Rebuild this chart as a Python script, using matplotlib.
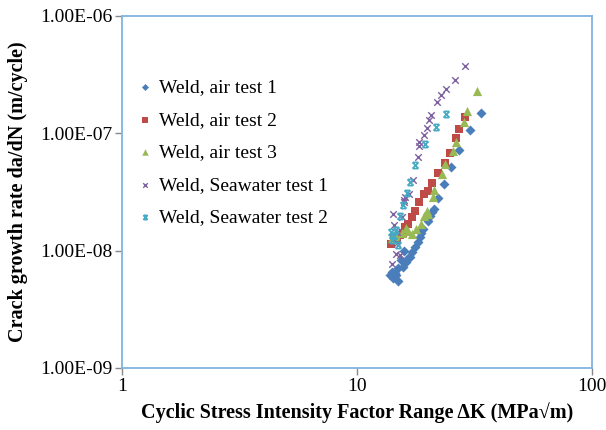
import matplotlib
matplotlib.use("Agg")
import matplotlib.pyplot as plt
from matplotlib.path import Path
from matplotlib.ticker import FixedLocator, FuncFormatter, NullLocator

plt.rcParams['font.family'] = ['Liberation Serif', 'DejaVu Serif']

# Weld, air test 1
k_air1 = [33.7, 30.3, 27.2, 25.1, 23.5, 22.1, 21.3, 20.9, 20.5, 20.0, 19.1, 18.7, 18.5,
          18.2, 17.7, 17.1, 16.8, 16.5, 16.2, 15.9, 15.7, 15.4, 14.9, 14.5, 14.1, 13.8,
          14.2, 14.7, 14.9]
r_air1 = [1.48e-7, 1.07e-7, 7.2e-8, 5.2e-8, 3.70e-8, 2.80e-8, 2.26e-8, 2.14e-8, 1.97e-8,
          1.79e-8, 1.53e-8, 1.41e-8, 1.31e-8, 1.18e-8, 1.07e-8, 9.7e-9, 8.8e-9, 8.6e-9,
          8.0e-9, 9.9e-9, 7.25e-9, 8.3e-9, 7.1e-9, 6.4e-9, 6.6e-9, 6.2e-9, 5.9e-9, 6.2e-9,
          5.5e-9]

# Weld, air test 2
k_air2 = [28.8, 27.2, 26.4, 24.9, 23.7, 22.1, 20.9, 20.0, 19.3, 18.4, 17.7, 17.1, 16.5,
          16.0, 15.7, 15.2, 14.8, 13.9, 14.4]
r_air2 = [1.38e-7, 1.09e-7, 9.1e-8, 6.8e-8, 5.6e-8, 4.6e-8, 3.78e-8, 3.2e-8, 3.04e-8,
          2.60e-8, 2.18e-8, 1.93e-8, 1.69e-8, 1.59e-8, 1.41e-8, 1.36e-8, 1.23e-8, 1.14e-8,
          1.28e-8]

# Weld, air test 3
k_air3 = [32.4, 29.4, 28.5, 26.4, 25.6, 23.7, 23.0, 21.3, 21.1, 20.0, 19.9, 19.3, 18.7,
          17.8, 17.1, 16.5, 16.2, 15.5, 14.7, 14.1]
r_air3 = [2.28e-7, 1.55e-7, 1.25e-7, 8.4e-8, 7.1e-8, 5.5e-8, 4.5e-8, 3.29e-8, 2.86e-8,
          2.05e-8, 2.18e-8, 1.97e-8, 1.69e-8, 1.53e-8, 1.38e-8, 1.47e-8, 1.56e-8, 1.41e-8,
          1.34e-8, 1.28e-8]

# Weld, Seawater test 1
k_sw1 = [28.8, 26.1, 24.0, 22.8, 21.9, 20.6, 20.2, 19.9, 19.3, 18.4, 18.4, 18.2, 17.3,
         16.6, 16.0, 15.9, 15.9, 15.5, 14.2, 14.8, 14.7, 15.2, 14.1, 14.8, 14.4]
r_sw1 = [3.75e-7, 2.85e-7, 2.39e-7, 2.12e-7, 1.85e-7, 1.43e-7, 1.30e-7, 1.11e-7, 9.7e-8,
         8.4e-8, 7.8e-8, 6.3e-8, 4.0e-8, 3.04e-8, 2.86e-8, 2.70e-8, 2.60e-8, 1.93e-8,
         2.04e-8, 1.44e-8, 9.4e-9, 9.2e-9, 7.7e-9, 1.16e-8, 1.65e-8]

# Weld, Seawater test 2
k_sw2 = [24.0, 21.7, 19.5, 17.7, 16.8, 16.3, 15.7, 15.2, 14.7, 14.1, 14.4, 14.9, 13.9]
r_sw2 = [1.46e-7, 1.13e-7, 8.1e-8, 5.4e-8, 3.85e-8, 3.1e-8, 2.45e-8, 1.97e-8, 1.50e-8,
         1.23e-8, 1.33e-8, 1.11e-8, 1.44e-8]

series_labels = ['Weld, air test 1', 'Weld, air test 2', 'Weld, air test 3',
                 'Weld, Seawater test 1', 'Weld, Seawater test 2']
y_ticks = [1e-9, 1e-8, 1e-7, 1e-6]
x_ticks = [1, 10, 100]

# Excel-style "star" marker: an x with short horizontal bars at top and bottom
star = Path([(-1, -1), (1, 1), (-1, 1), (1, -1), (-0.8, 1), (0.8, 1), (-0.8, -1), (0.8, -1)],
            [Path.MOVETO, Path.LINETO, Path.MOVETO, Path.LINETO,
             Path.MOVETO, Path.LINETO, Path.MOVETO, Path.LINETO])

fig = plt.figure(figsize=(6.06, 4.30), dpi=100)
ax = fig.add_axes([122/606, 1-368/430, 470/606, 352/430])

ax.scatter(k_air1, r_air1, marker='D', s=26, color='#4a7ebb', label=series_labels[0], zorder=3, linewidths=0)
ax.scatter(k_air2, r_air2, marker='s', s=38, color='#be4b48', label=series_labels[1], zorder=3, linewidths=0)
ax.scatter(k_air3, r_air3, marker='^', s=44, color='#98b954', label=series_labels[2], zorder=3, linewidths=0)
ax.scatter(k_sw1, r_sw1, marker='x', s=22, color='#7d60a0', label=series_labels[3], zorder=3, linewidths=1.0)
ax.scatter(k_sw2, r_sw2, marker=star, s=20, color='#46aac5', label=series_labels[4], zorder=3, linewidths=1.2)

ax.set_xscale('log')
ax.set_yscale('log')
ax.set_xlim(1, 100)
ax.set_ylim(1e-9, 1e-6)

ax.xaxis.set_major_locator(FixedLocator(x_ticks))
ax.xaxis.set_minor_locator(NullLocator())
ax.yaxis.set_major_locator(FixedLocator(y_ticks))
ax.yaxis.set_minor_locator(NullLocator())
ax.xaxis.set_major_formatter(FuncFormatter(lambda v, p: f"{v:g}"))
ax.yaxis.set_major_formatter(FuncFormatter(lambda v, p: f"{v:.2E}"))

for s in ax.spines.values():
    s.set_color('#7fb3e0')
    s.set_linewidth(1.3)
ax.tick_params(axis='both', which='major', direction='out', length=5, color='#888888',
               labelsize=14, pad=2, width=1)

ax.set_xlabel('Cyclic Stress Intensity Factor Range \u0394K (MPa\u221am)', fontsize=14.5,
              fontweight='bold', labelpad=5)
ax.set_ylabel('Crack growth rate da/dN (m/cycle)', fontsize=14.5, fontweight='bold', labelpad=9)

leg = ax.legend(loc='upper left', bbox_to_anchor=(-0.01, 0.871), frameon=False, fontsize=14,
                handletextpad=0.25, labelspacing=0.76, handlelength=1.0, markerscale=0.7)

fig.savefig('out.png', dpi=100)
